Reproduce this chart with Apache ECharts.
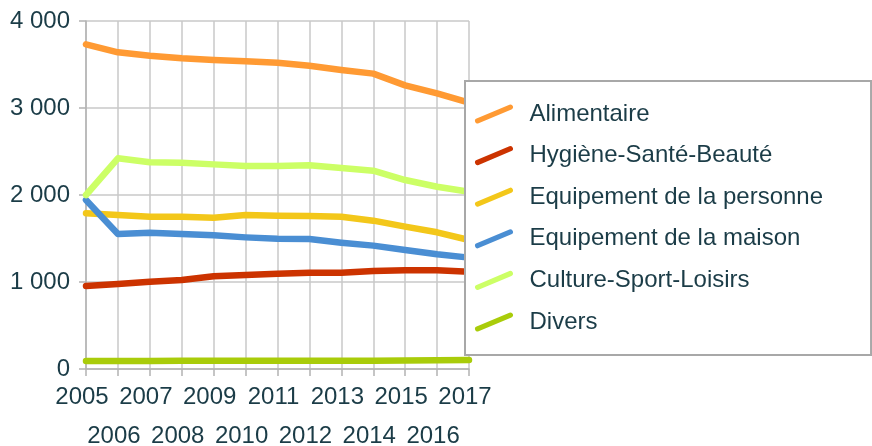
<!DOCTYPE html>
<html>
<head>
<meta charset="utf-8">
<script src="https://cdn.jsdelivr.net/npm/echarts@6/dist/echarts.min.js"></script>
<style>
  html, body { margin: 0; padding: 0; background: #fff; }
  #chart { width: 872px; height: 446px; }
</style>
</head>
<body>
<div id="chart"></div>
<script>
// Years on the horizontal axis
const years = ['2005','2006','2007','2008','2009','2010','2011','2012','2013','2014','2015','2016','2017'];

// Values per sector
const alimentaire = [3732, 3640, 3601, 3571, 3552, 3536, 3521, 3486, 3437, 3395, 3260, 3169, 3061];
const hygiene     = [954, 977, 1004, 1023, 1065, 1080, 1096, 1107, 1107, 1126, 1134, 1134, 1119];
const eqPersonne  = [1790, 1770, 1751, 1751, 1739, 1770, 1762, 1759, 1751, 1705, 1636, 1571, 1483];
const eqMaison    = [1943, 1552, 1567, 1552, 1536, 1513, 1498, 1494, 1452, 1418, 1368, 1318, 1280];
const culture     = [2000, 2422, 2376, 2371, 2352, 2333, 2333, 2341, 2310, 2280, 2172, 2095, 2038];
const divers      = [92, 92, 92, 96, 96, 96, 96, 96, 96, 96, 98, 100, 103];

// Series names (legend order)
const seriesNames = ['Alimentaire', 'Hygiène-Santé-Beauté', 'Equipement de la personne',
                     'Equipement de la maison', 'Culture-Sport-Loisirs', 'Divers'];
const seriesData = [alimentaire, hygiene, eqPersonne, eqMaison, culture, divers];
const seriesColors = ['#ff9a33', '#cc3300', '#f3c71a', '#4a8ed3', '#ccff66', '#a9cc0a'];

// Y-axis bounds
const yMin = 0, yMax = 4000, yStep = 1000;

const textColor = '#1b3c47';
const fontFamily = '"Liberation Sans", Arial, sans-serif';

// Slanted rounded stroke used as the legend symbol
const slantIcon = 'path://M4.16,21.77 L42.16,5.77 A3,3 0 0 0 39.84,0.23 L1.84,16.23 A3,3 0 0 0 4.16,21.77 Z';

const chart = echarts.init(document.getElementById('chart'), null, { renderer: 'canvas' });

chart.setOption({
  animation: false,
  backgroundColor: '#ffffff',
  textStyle: { fontFamily: fontFamily },
  grid: { left: 86, right: 403, top: 21, bottom: 77, containLabel: false, outerBoundsMode: 'none' },
  legend: {
    orient: 'vertical',
    left: 465,
    top: 81,
    padding: [19, 48, 19, 10],
    itemGap: 13.6,
    itemWidth: 41,
    itemHeight: 19,
    icon: slantIcon,
    backgroundColor: '#ffffff',
    borderColor: '#a8a8a8',
    borderWidth: 2,
    borderRadius: 0,
    textStyle: {
      color: textColor,
      fontSize: 24,
      fontFamily: fontFamily,
      lineHeight: 28,
      padding: [0, 0, 0, 10]
    },
    data: seriesNames
  },
  xAxis: {
    type: 'category',
    boundaryGap: false,
    data: years,
    axisLine: { lineStyle: { color: '#b3b3b3', width: 1.5 } },
    axisTick: { show: true, length: 7, alignWithLabel: true, interval: 0, lineStyle: { color: '#b3b3b3', width: 1.5 } },
    splitLine: { show: true, interval: 0, lineStyle: { color: '#c8c8c8', width: 1.5 } },
    axisLabel: {
      interval: 0,
      hideOverlap: false,
      color: textColor,
      fontSize: 24,
      fontFamily: fontFamily,
      lineHeight: 39,
      margin: 9,
      padding: [0, 8, 0, 0],
      formatter: (value, index) => (index % 2 === 1 ? '\n' + value : value)
    }
  },
  yAxis: {
    type: 'value',
    min: yMin,
    max: yMax,
    interval: yStep,
    axisLine: { show: true, lineStyle: { color: '#b3b3b3', width: 1.5 } },
    axisTick: { show: true, length: 7, lineStyle: { color: '#b3b3b3', width: 1.5 } },
    splitLine: { show: true, lineStyle: { color: '#c8c8c8', width: 1.5 } },
    axisLabel: {
      color: textColor,
      fontSize: 24,
      fontFamily: fontFamily,
      margin: 16,
      formatter: v => String(v).replace(/\B(?=(\d{3})+(?!\d))/g, ' ')
    }
  },
  series: seriesNames.map((name, i) => ({
    name: name,
    type: 'line',
    data: seriesData[i],
    showSymbol: false,
    symbol: 'none',
    color: seriesColors[i],
    lineStyle: { color: seriesColors[i], width: 6.5, cap: 'round', join: 'round' },
    emphasis: { disabled: true },
    z: 2
  }))
});
</script>
</body>
</html>
